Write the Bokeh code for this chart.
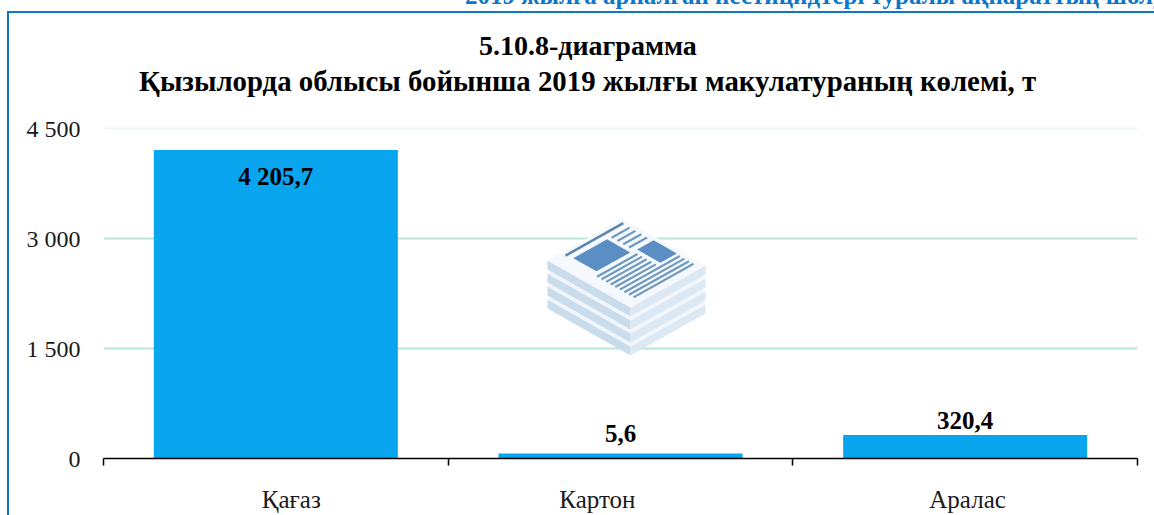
from bokeh.plotting import figure
from bokeh.layouts import column
from bokeh.models import (ColumnDataSource, Div, FixedTicker, InlineStyleSheet, LinearAxis,
                          Range1d)
from bokeh.core.properties import value
from bokeh.embed import file_html
from bokeh.resources import INLINE

# ---- data ----
categories = ["Қағаз", "Картон", "Аралас"]
bar_heights = [4205.7, 68, 320.4]          # the middle bar is drawn taller than its printed label says
bar_labels = ["4 205,7", "5,6", "320,4"]
y_ticks = [0, 1500, 3000, 4500]
y_tick_labels = ["0", "1 500", "3 000", "4 500"]
grid_values = [1500, 3000]
top_grid_value = 4500
title_line1 = "5.10.8-диаграмма"
title_line2 = "Қызылорда облысы бойынша 2019 жылғы макулатураның көлемі, т"
clipped_header = "2019 жылға арналған пестицидтері туралы ақпараттың шолу"

# ---- layout / styles ----
W, H = 1154, 515
L, R, T, B = 103, 1137, 121, 458
FONT = "Liberation Serif"
BLUE = "#09a5ef"
FRAME = "#0d76c9"
GRID = "#b8e8d2"
label_offsets = [26, -20, -15]
category_label_x = [0.545, 1.433, 2.507]   # the category names sit off-centre in the reference

positions = [i + 0.5 for i in range(len(categories))]
y_top = (B - T) * 1500 / 110

p = figure(width=W, height=H, output_backend="svg", toolbar_location=None,
           x_range=Range1d(0, len(categories)), y_range=Range1d(0, y_top),
           x_axis_type=None, y_axis_type=None,
           min_border_left=L, min_border_right=W - R, min_border_top=T, min_border_bottom=H - B)
p.title = None
p.outline_line_color = None
p.xgrid.visible = False
p.ygrid.visible = False
p.background_fill_color = "white"

p.extra_x_ranges["px"] = Range1d(L, R)
p.extra_y_ranges["py"] = Range1d(B, T)

# gridlines
p.hspan(y=grid_values, line_color=GRID, line_width=2, level="underlay")
p.hspan(y=[top_grid_value], line_color="#eff8f5", line_width=2, level="underlay")

# bars
p.vbar(x=positions, top=bar_heights, width=0.708, fill_color=BLUE, line_color=None)

# value labels
src = ColumnDataSource(dict(x=positions, y=bar_heights, t=bar_labels, o=label_offsets))
p.text(x="x", y="y", text="t", y_offset="o", source=src, text_align="center",
       text_baseline="middle", text_font=value(FONT), text_font_style="bold",
       text_font_size="25px", text_color="#000000")

# axes
xax = LinearAxis(ticker=FixedTicker(ticks=category_label_x,
                                    minor_ticks=list(range(len(categories) + 1))),
                 major_label_overrides=dict(zip(category_label_x, categories)))
xax.major_tick_line_color = None
xax.major_tick_out = 0
xax.major_tick_in = 0
xax.minor_tick_in = 0
xax.minor_tick_out = 7
xax.minor_tick_line_color = "#000000"
xax.minor_tick_line_width = 1.5
xax.axis_line_color = "#000000"
xax.axis_line_width = 1.5
xax.major_label_standoff = 20
xax.major_label_text_font = FONT
xax.major_label_text_font_size = "25px"
xax.major_label_text_color = "#1a1a1a"
p.add_layout(xax, "below")

yax = LinearAxis(ticker=FixedTicker(ticks=y_ticks),
                 major_label_overrides=dict(zip(y_ticks, y_tick_labels)))
yax.axis_line_color = None
yax.major_tick_line_color = None
yax.minor_tick_line_color = None
yax.major_tick_out = 0
yax.major_tick_in = 0
yax.major_label_standoff = 23
yax.major_label_text_font = FONT
yax.major_label_text_font_size = "24px"
yax.major_label_text_color = "#1a1a1a"
p.add_layout(yax, "left")


# decorative newspaper icon, page pixels
def pt(u, v, dy=0):
    return 622 + 83 * u - 75 * v, 218 + 47 * u + 42 * v + dy


def poly(corners, color, dy=0):
    pts = [pt(u, v, dy) for u, v in corners]
    p.patch([a for a, _ in pts], [b for _, b in pts], fill_color=color, line_color=None,
            x_range_name="px", y_range_name="py")


def seg(u, v0, v1, color, width=2.2):
    a, b = pt(u, v0), pt(u, v1)
    p.line([a[0], b[0]], [a[1], b[1]], line_color=color, line_width=width,
           x_range_name="px", y_range_name="py")


SHEET = [(0, 0), (1, 0), (1, 1), (0, 1)]
for k in (3, 2, 1, 0):
    off = k * 13
    l0, b0, r0 = pt(0, 1, off), pt(1, 1, off), pt(1, 0, off)
    p.patch([l0[0], b0[0], b0[0], l0[0]], [l0[1], b0[1], b0[1] + 9, l0[1] + 9],
            fill_color="#c9dcec", line_color=None, x_range_name="px", y_range_name="py")
    p.patch([r0[0], b0[0], b0[0], r0[0]], [r0[1], b0[1], b0[1] + 9, r0[1] + 9],
            fill_color="#dce9f4", line_color=None, x_range_name="px", y_range_name="py")
    poly(SHEET, "#f0f6fb" if k else "#f5f9fd", off)

poly([(.13, .35), (.41, .35), (.41, .80), (.13, .80)], "#5b8fc3")
poly([(.42, .05), (.70, .05), (.70, .27), (.42, .27)], "#5b8fc3")
seg(.055, .05, .82, "#5d87a6", 2.6)
for u in (.14, .21, .28, .35):
    seg(u, .06, .30, "#6f9ac0")
for u in (.47, .525, .58, .635, .69):
    seg(u, .32, .86, "#6f9ac0")
for u in (.745, .80, .855, .91):
    seg(u, .06, .86, "#6f9ac0")

# outer frame of the page: drawn by the figure's host element
p.stylesheets = [InlineStyleSheet(css=f""":host::after {{
    content: ""; position: absolute; left: 7px; top: 11px; right: 0; bottom: 0;
    border-top: 2px solid {FRAME}; border-left: 2px solid {FRAME}; pointer-events: none;
}}""")]


# text above the plot frame, positioned on the page
def page_text(text, left, top, size, color, line_height="normal"):
    return Div(text=text, margin=0,
               styles={"position": "absolute", "left": f"{left}px", "top": f"{top}px",
                       "z-index": "2", "white-space": "nowrap", "font-family": FONT,
                       "font-weight": "bold", "font-size": f"{size}px", "color": color,
                       "line-height": line_height})


title1 = page_text(title_line1, 479, 32, 28, "#000000", "1")
title2 = page_text(title_line2, 139, 67, 28.8, "#000000", "1")
header = Div(text=clipped_header, margin=0,
             styles={"position": "absolute", "left": "465px", "top": "-22px", "z-index": "2",
                     "white-space": "nowrap", "font-family": FONT, "font-weight": "bold",
                     "font-size": "25px", "color": FRAME})

open("out.html", "w").write(file_html(column(header, title1, title2, p, spacing=0), INLINE))
